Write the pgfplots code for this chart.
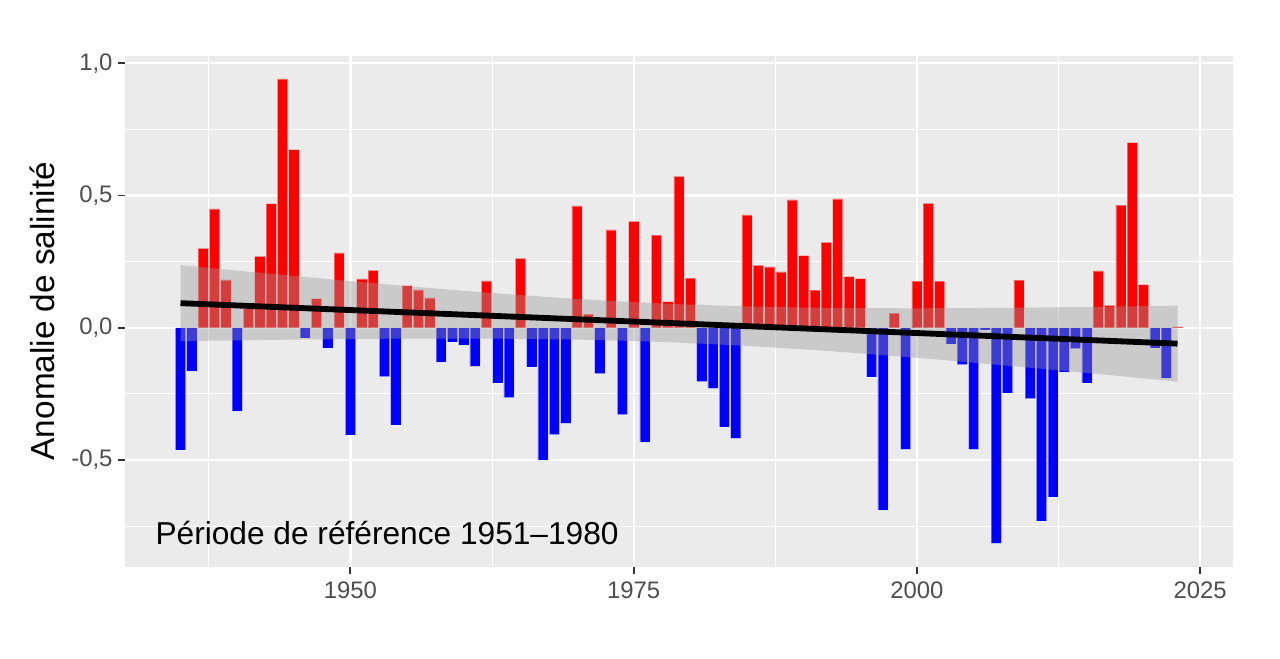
\documentclass[border=0pt]{standalone}
\usepackage{fontspec}
\setmainfont{Liberation Sans}
\usepackage{pgfplots}
\pgfplotsset{compat=1.18}
\definecolor{panel}{HTML}{EBEBEB}
\definecolor{ticktext}{HTML}{4D4D4D}
\definecolor{tickline}{HTML}{333333}
\definecolor{ribbon}{HTML}{999999}

\begin{document}
\begin{tikzpicture}
\begin{axis}[
    name=ax,
    scale only axis,
    width=398.9pt, height=184pt,
    xmin=1930.1, xmax=2027.9,
    ymin=-0.903, ymax=1.029,
    axis background/.style={fill=panel},
    axis line style={draw=none},
    xtick={1950,1975,2000,2025},
    xticklabels={1950,1975,2000,2025},
    ytick={-0.5,0,0.5,1},
    yticklabels={{-0,5},{0,0},{0,5},{1,0}},
    minor xtick={1937.5,1962.5,1987.5,2012.5},
    minor ytick={-0.75,-0.25,0.25,0.75},
    grid=both,
    major grid style={white, line width=0.75pt},
    minor grid style={white, line width=0.4pt},
    tick pos=left,
    tick align=outside,
    major tick length=2.6pt,
    minor tick length=0pt,
    tick style={tickline, line width=0.7pt},
    xticklabel style={font=\fontsize{8.6}{10}\selectfont, text=ticktext, inner sep=0pt, yshift=-2.8pt},
    yticklabel style={font=\fontsize{8.6}{10}\selectfont, text=ticktext, inner sep=0pt, xshift=-1.7pt},
    /pgf/number format/assume math mode=true,
    every axis y label/.style={at={(axis description cs:-0.064,0.5)}, rotate=90, anchor=base},
    ylabel={\fontsize{12}{14}\selectfont Anomalie de salinité},
]
% positive anomalies
\addplot[ybar, bar width=0.9, bar shift=0pt, fill=red, draw=white, draw opacity=0.35, line width=0.2pt] coordinates {
(1937,0.300) (1938,0.449) (1939,0.181) (1941,0.072) (1942,0.270) (1943,0.469)
(1944,0.941) (1945,0.673) (1947,0.110) (1949,0.283) (1951,0.185) (1952,0.217)
(1955,0.159) (1956,0.143) (1957,0.113) (1962,0.177) (1965,0.262) (1970,0.461)
(1971,0.052) (1973,0.370) (1975,0.402) (1977,0.350) (1978,0.099) (1979,0.572)
(1980,0.188) (1985,0.427) (1986,0.236) (1987,0.230) (1988,0.211) (1989,0.483)
(1990,0.273) (1991,0.142) (1992,0.323) (1993,0.487) (1994,0.193) (1995,0.186)
(1998,0.055) (2000,0.176) (2001,0.470) (2002,0.176) (2009,0.180) (2016,0.215)
(2017,0.085) (2018,0.464) (2019,0.700) (2020,0.163) (2023,0.003)
};
% negative anomalies
\addplot[ybar, bar width=0.9, bar shift=0pt, fill=blue, draw=white, draw opacity=0.35, line width=0.2pt] coordinates {
(1935,-0.462) (1936,-0.164) (1940,-0.315) (1946,-0.038) (1948,-0.077) (1950,-0.405)
(1953,-0.185) (1954,-0.367) (1958,-0.130) (1959,-0.053) (1960,-0.066) (1961,-0.146)
(1963,-0.208) (1964,-0.264) (1966,-0.148) (1967,-0.500) (1968,-0.404) (1969,-0.361)
(1972,-0.173) (1974,-0.328) (1976,-0.432) (1981,-0.204) (1982,-0.229) (1983,-0.375)
(1984,-0.418) (1996,-0.186) (1997,-0.689) (1999,-0.460) (2003,-0.061) (2004,-0.139)
(2005,-0.460) (2006,-0.008) (2007,-0.815) (2008,-0.246) (2010,-0.268) (2011,-0.730)
(2012,-0.639) (2013,-0.168) (2014,-0.079) (2015,-0.208) (2021,-0.076) (2022,-0.190)
};
% confidence band of the linear trend
\addplot[fill=ribbon, fill opacity=0.4, draw=none] coordinates {
(1935,0.2368) (1940,0.2161) (1945,0.1959) (1950,0.1762) (1955,0.1574) (1960,0.1397)
(1965,0.1234) (1970,0.1089) (1975,0.0968) (1979,0.0890) (1985,0.0806) (1990,0.0763)
(1995,0.0741) (2000,0.0736) (2005,0.0744) (2010,0.0762) (2015,0.0787) (2020,0.0817)
(2023,0.0837)
(2023,-0.2039) (2020,-0.1913) (2015,-0.1709) (2010,-0.1510) (2005,-0.1318)
(2000,-0.1136) (1995,-0.0967) (1990,-0.0815) (1985,-0.0684) (1979,-0.0560)
(1975,-0.0500) (1970,-0.0447) (1965,-0.0418) (1960,-0.0407) (1955,-0.0410)
(1950,-0.0424) (1945,-0.0447) (1940,-0.0475) (1935,-0.0508)
} -- cycle;
% linear trend
\addplot[black, line width=2.1pt] coordinates {(1935,0.093) (2023,-0.060)};
\node[anchor=base west, inner sep=0pt, font=\fontsize{11.4}{13}\selectfont] at (axis cs:1932.75,-0.818) {Période de référence 1951–1980};
\end{axis}
\path ([xshift=-45pt,yshift=-32.9pt]ax.south west) rectangle ([xshift=16.9pt,yshift=20pt]ax.north east);
\end{tikzpicture}
\end{document}
